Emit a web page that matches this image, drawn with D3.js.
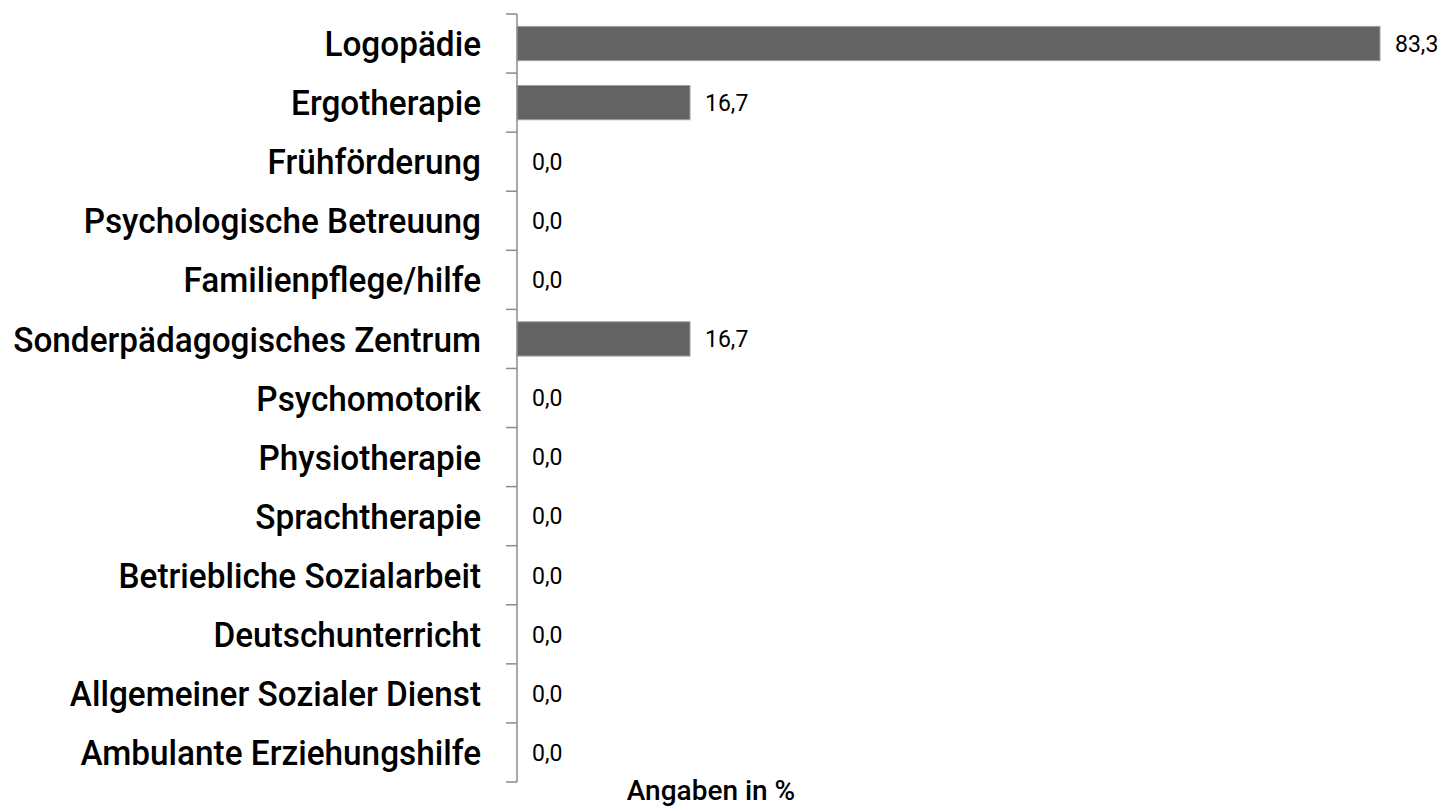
<!DOCTYPE html>
<html>
<head>
<meta charset="utf-8">
<script src="https://cdn.jsdelivr.net/npm/d3@7"></script>
<style>
	body { margin: 0; background: #fff; }
	svg { display: block; }
</style>
</head>
<body>
<svg id="chart" width="1447" height="807"></svg>
<script>
(function () {
	"use strict";

	/***** Data *****/
	var categories = [
		"Logopädie",
		"Ergotherapie",
		"Frühförderung",
		"Psychologische Betreuung",
		"Familienpflege/hilfe",
		"Sonderpädagogisches Zentrum",
		"Psychomotorik",
		"Physiotherapie",
		"Sprachtherapie",
		"Betriebliche Sozialarbeit",
		"Deutschunterricht",
		"Allgemeiner Sozialer Dienst",
		"Ambulante Erziehungshilfe"
	];
	var values = [83.3, 16.7, 0, 0, 0, 16.7, 0, 0, 0, 0, 0, 0, 0];
	var axisTitle = "Angaben in %";

	var fmt = function (v) { return d3.format(".1f")(v).replace(".", ","); };

	/***** Layout *****/
	const axisX = 517;
	const plotTop = 14, plotBottom = 782;
	const labelRight = 481;
	const longestLabelWidth = 468;   // width of the widest category label in the reference

	var svg = d3.select("#chart");

	var y = d3.scaleBand()
		.domain(categories)
		.range([plotTop, plotBottom])
		.paddingInner(0.42)
		.paddingOuter(0.21);

	var x = d3.scaleLinear()
		.domain([0, 90])
		.range([axisX, axisX + 863 / 83.3 * 90]);

	// bars
	svg.append("g").selectAll("rect")
		.data(categories)
		.enter().append("rect")
		.attr("x", x(0))
		.attr("y", function (d) { return y(d); })
		.attr("width", function (d, i) { return x(values[i]) - x(0); })
		.attr("height", y.bandwidth())
		.attr("fill", "#636363")
		.attr("stroke", "#a0a0a0")
		.attr("stroke-width", 1)
		.style("display", function (d, i) { return values[i] > 0 ? null : "none"; });

	// value labels
	svg.append("g").selectAll("text")
		.data(categories)
		.enter().append("text")
		.attr("x", function (d, i) { return x(values[i]) + 15; })
		.attr("y", function (d) { return y(d) + y.bandwidth() / 2; })
		.attr("dy", "0.36em")
		.attr("font-family", "Roboto, 'Liberation Sans', sans-serif")
		.attr("font-size", 23)
		.attr("fill", "#000")
		.text(function (d, i) { return fmt(values[i]); });

	// category axis with ticks on band boundaries
	var axis = svg.append("g");
	axis.append("line")
		.attr("x1", axisX).attr("x2", axisX)
		.attr("y1", plotTop).attr("y2", plotBottom)
		.attr("stroke", "#8c8c8c").attr("stroke-width", 1.5);

	var bounds = categories.map(function (d) { return y(d) - y.step() * y.paddingInner() / 2; });
	bounds.push(plotBottom);
	bounds[0] = plotTop;
	axis.selectAll("line.tick")
		.data(bounds)
		.enter().append("line")
		.attr("class", "tick")
		.attr("x1", axisX - 11).attr("x2", axisX)
		.attr("y1", function (d) { return d; }).attr("y2", function (d) { return d; })
		.attr("stroke", "#8c8c8c").attr("stroke-width", 1.5);

	var labels = axis.selectAll("text")
		.data(categories)
		.enter().append("text")
		.attr("text-anchor", "end")
		.attr("font-family", "Roboto, 'Liberation Sans', sans-serif")
		.attr("font-weight", 500)
		.attr("font-size", 35)
		.attr("fill", "#000")
		.text(function (d) { return d; });

	// squeeze labels horizontally to the narrow face of the original
	var maxLen = d3.max(labels.nodes(), function (n) { return n.getComputedTextLength(); });
	var sx = Math.min(1, longestLabelWidth / maxLen);
	labels.attr("transform", function (d) {
		return "translate(" + labelRight + "," + (y(d) + y.bandwidth() / 2) + ") scale(" + sx + ",1)";
	}).attr("dy", "0.36em");

	// axis title
	svg.append("text")
		.attr("x", 711)
		.attr("y", 800)
		.attr("text-anchor", "middle")
		.attr("font-family", "Roboto, 'Liberation Sans', sans-serif")
		.attr("font-weight", 500)
		.attr("font-size", 28)
		.attr("fill", "#000")
		.text(axisTitle);
})();
</script>
</body>
</html>
